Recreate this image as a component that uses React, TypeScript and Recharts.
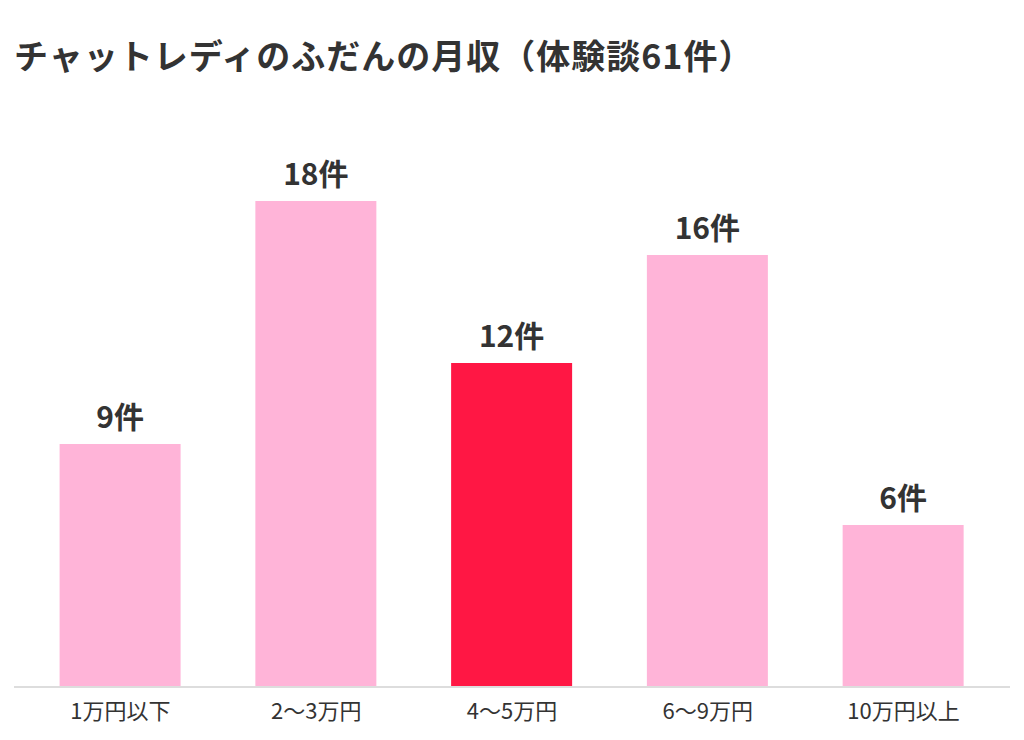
import React from 'react'
import { BarChart, Bar, XAxis, YAxis, Cell, LabelList } from 'recharts'

const categories = ['1万円以下', '2〜3万円', '4〜5万円', '6〜9万円', '10万円以上']
const counts = [9, 18, 12, 16, 6]
const highlightIndex = 2

const data = categories.map((name, i) => ({ name, value: counts[i] }))

const FONT = '"Noto Sans CJK JP", "Noto Sans", sans-serif'

const App = () => {
  return (
    <div style={{ position: 'relative', width: 1024, height: 740, margin: -8, background: '#fff', fontFamily: FONT }}>
      <div
        style={{
          position: 'absolute',
          left: 14,
          top: 38,
          fontSize: 34,
          lineHeight: 1,
          fontWeight: 700,
          color: '#333',
          letterSpacing: 1,
          whiteSpace: 'nowrap',
        }}
      >
        チャットレディのふだんの月収（体験談61件）
      </div>
      <BarChart
        width={1024}
        height={740}
        data={data}
        margin={{ top: 147, right: 14, left: 14, bottom: 0 }}
        barSize={121}
      >
        <YAxis hide domain={[0, 20]} />
        <XAxis
          dataKey="name"
          height={53}
          padding={{ left: 8.6, right: 8.6 }}
          axisLine={{ stroke: '#dddddd', strokeWidth: 2 }}
          tickLine={false}
          tick={{ fill: '#333', fontSize: 22, fontFamily: FONT }}
          tickMargin={10}
          interval={0}
        />
        <Bar dataKey="value" isAnimationActive={false}>
          {data.map((entry, index) => (
            <Cell key={`cell-${index}`} fill={index === highlightIndex ? '#ff1744' : '#ffb4d8'} />
          ))}
          <LabelList
            dataKey="value"
            position="top"
            offset={16}
            formatter={(v: any) => `${v}件`}
            style={{ fill: '#333', fontSize: 30, fontWeight: 700, fontFamily: FONT }}
          />
        </Bar>
      </BarChart>
    </div>
  )
}

export default App
